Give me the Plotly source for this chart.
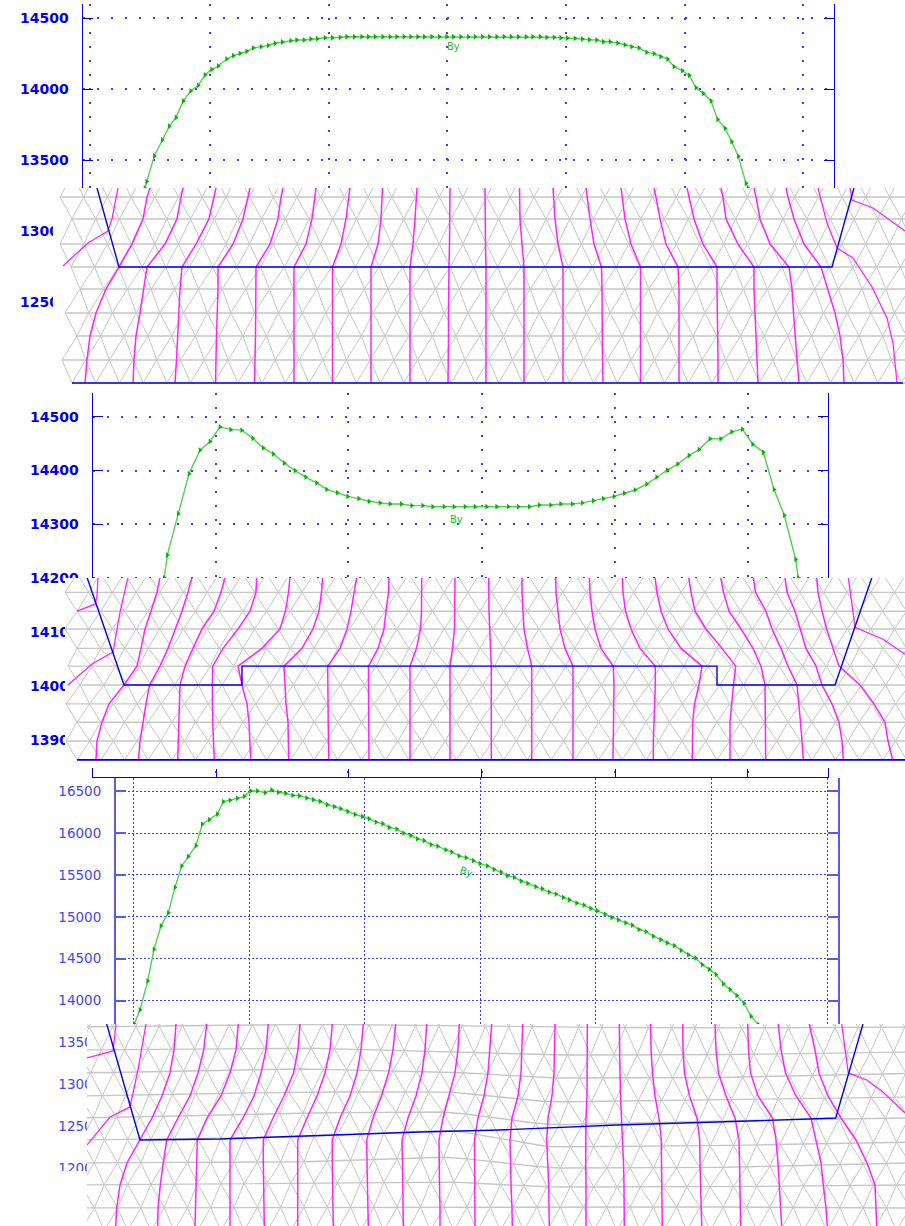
import numpy as np
import plotly.graph_objects as go

W, H = 905, 1226

# ---------- line chart data (By along the gap) ----------
A_x = [145,146.7,154.3,162.3,169.3,176,183.3,190.7,198.3,205,211.7,218.3,226.7,233.3,240,246.7,253.3,261,268.3,275,282.3,290.7,296.7,304,310.7,317.3,325,332.3,
       340,346.7,354.3,361.7,368.3,375,382.7,390,396.7,404,410.7,417.7,424.3,431.7,439.3,446.7,453.3,460.7,468.3,475,482.3,489.3,496.7,504,511,518.3,526,532.7,540,
       546.7,554,560.7,567.3,575,582.3,589.3,596.7,603.3,610,617.7,625,631.7,639,646.7,654,660.7,667.7,674,682.3,689.3,696,703.3,711,717.7,725,731.7,738.3,746,748.3]
A_y = [13301,13348,13528,13641,13739,13800,13916,13986,14026,14099,14138,14162,14211,14235,14251,14265,14289,14298,14307,14322,14331,14340,14345,14345,14352,14354,14361,14361,
       14364,14368,14368,14368,14368,14368,14368,14368,14368,14368,14368,14368,14368,14368,14368,14368,14368,14368,14368,14368,14368,14368,14368,14368,14368,14368,14368,14368,14368,
       14364,14364,14361,14359,14357,14352,14347,14345,14333,14333,14324,14310,14298,14289,14258,14249,14228,14211,14157,14129,14096,14009,13969,13916,13786,13723,13629,13526,13336,13301]

B_x = [164.3,167.3,178.3,189,200,210,220,230.7,241.7,252.7,263.3,273.3,284.3,295,305.7,316.7,326.7,337.3,347.7,358.7,369,380,390,401.3,411.7,422.7,432.7,444,
       454,465,475,486.7,496.7,508.3,518.3,529.3,539.3,550.7,560.7,572.3,582.3,593.3,603.3,614,624.3,635,646.7,656.7,667.3,677.7,689,699,710,720.7,731.7,742.3,752.7,763.3,774,784.3,795.7,798.3]
B_y = [14201,14243,14320,14394,14438,14454,14481,14476,14475,14460,14442,14431,14414,14400,14388,14377,14365,14359,14352,14348,14343,14340,14338,14338,14335,14335,14333,14333,
       14333,14333,14333,14333,14333,14333,14333,14333,14336,14336,14338,14338,14340,14344,14348,14352,14358,14364,14375,14388,14401,14412,14428,14439,14459,14459,14472,14477,14449,14434,14365,14317,14235,14201]

C_x = [134.3,140,147.7,154,161,168.3,175,181.7,188.3,196,202.3,209.3,217.3,223.3,230,237.3,244.3,250.7,257.3,265,271.7,278.3,285.7,292.7,299.3,306.7,313.3,320,327.3,334.3,340.7,347.7,355,362.3,369,376,382.7,389.3,396.7,403.7,410.7,417.3,424,431,437.7,445.7,
       451.7,459,466,473.3,480,487.3,494,501,507.3,514.3,521,527.7,535.7,542.3,549,556,563.3,569.3,576.7,584,590.7,597.3,605,611.7,618.3,625.7,632.3,639,646,653.3,660.7,667.3,674.3,681,688.3,695.7,702.3,709.3,716,723.3,730,736.7,744,751,758.3]
C_y = [13720,13888,14232,14612,14892,15048,15352,15608,15720,15852,16108,16160,16228,16376,16392,16416,16440,16504,16504,16484,16516,16488,16476,16452,16448,16420,16400,16380,16340,16316,16292,16260,16224,16200,16172,16132,16112,16068,16048,16000,15972,15932,15912,15864,15844,15800,
       15776,15728,15708,15672,15636,15608,15568,15536,15492,15472,15428,15400,15360,15336,15296,15272,15232,15204,15164,15140,15100,15072,15032,14992,14964,14928,14900,14848,14824,14768,14728,14688,14656,14600,14548,14508,14428,14372,14312,14200,14132,14060,13968,13812,13712]

# ---------- grid / tick values ----------
A_gridx = [90,210,328.5,446.7,566,685,802.7]
A_ticks = [14500,14000,13500,13000,12500]
B_gridx = [216,348,481.7,615,747.7]
B_ticks = [14500,14400,14300,14200,14100,14000,13900]
C_gridx = [133.3,249,364.7,480,595.7,711.3,827]
C_ticks = [16500,16000,15500,15000,14500,14000,13500,13000,12500,12000]

# ---------- mesh rows: levels and first node of each row ----------
A_mesh_rows = [13401,13239,13085,12908,12746,12592,12423,12261,12092,11930]
A_mesh_x0   = [72,60,72,60,71,80,65,77,62,72]
B_mesh_rows = [14209,14174,14139,14106,14070,14037,14002,13967,13933,13898,13863]
B_mesh_x0   = [77,65,77,65,77,68,80,66,77,66,77]
C_knots_x   = [87,300,450,550,700,905]
C_mesh_rows = [
    [13958,13958,13958,13958,13958,13958],
    [13683,13719,13695,13683,13671,13683],
    [13409,13433,13385,13349,13349,13385],
    [13134,13182,13146,13074,13074,13134],
    [12859,12907,12907,12787,12811,12847],
    [12596,12656,12668,12512,12560,12596],
    [12333,12369,12453,12250,12261,12309],
    [12059,12071,12130,11999,11999,12059],
    [11796,11820,11832,11772,11772,11796],
    [11521,11533,11533,11533,11533,11521],
    [11246,11246,11246,11246,11246,11246],
]
C_mesh_x0   = [75,66,78,67,79,70,81,71,81,71,81]

# ---------- contour lines (x at each contour row level) ----------
A_levels = [13303,13239,13085,12908,12746,12592,12423,12261,12092,11930]
A_lines = [
 [150,147,143,132,119,106,96,90,87,85],
 [183,181,177,165,147,144,140,136,134,133],
 [216,214,209,196,182,180,179,178,176.5,175],
 [250,248,243,233,218,218,217,216.5,216,215.5],
 [283,281,278,270,256,256,255.5,255.5,255,254.5],
 [316,315,312,306,294,294,294,294,294,294],
 [350,349,346,341,332.5,332.5,332.5,332.5,332.5,332.5],
 [382.5,382,381,378,371,371,371,371,371,371],
 [417,416.5,415,413,410,410,410,410,410,410],
 [450,450,450,449.5,449,448.5,448.5,448.5,448,448],
 [485,485,485,485.5,486,486,486,486,486,486],
 [519.5,519.5,520,522,524,524,524,524,524,524],
 [553,553.5,555,558,563,563,563,563,563,563],
 [586,587,590,594,601.5,602,602,602.5,602.5,603],
 [621,622,625,631,640.5,640.5,640.5,640.5,640.5,640.5],
 [654,656,660,666,678,679,679,679,679,679],
 [687,689,694,703,717,717,717.5,717.5,718,718],
 [721,723,726,738,754,754,755,756,757,758],
 [754,756,760,770,789,792,793.5,795,797,799],
 [786,788,794,804,821,828,835,840,843,844],
]
A_free = [
 ([63,88,108,112,118],[12754,12916,13000,13085,13303]),
 ([818,827,837,853,872,887,893,897],[13303,13056,12880,12810,12606,12387,12211,11930]),
 ([850,852,873,905],[13303,13218,13162,13000]),
]
A_blue = ([97,119,832,854],[13303,12746,12746,13303])
A_base = ([72,903],[11930,11930])

B_levels = [14202,14174,14139,14106,14070,14037,14002,13967,13933,13898,13863]
B_lines = [
 [160,157,151,145,141,137,124,109,102,97,96],
 [192,188,182,175,168,160,149.5,146,143.3,140,138.5],
 [225,221,214,202,193,185,180,179.5,178.5,178,177.7],
 [256.7,256,250,238,223,212.7,212.3,212.3,212.7,213.5,214.3],
 [290,288.5,285.5,280,262,238,242,247,249,250,250.7],
 [322.7,321.5,319,313,302,284,285,286,288,288.5,288.7],
 [356.7,354.5,351,347,340,327.7,327.7,328,328.2,328.5,328.7],
 [389,388.5,386,384,378,368.5,368.5,368.7,369,369,369],
 [421.7,421.7,421.5,420.5,416.5,410,410,410,410,410,410],
 [455,455,455,454.5,452.5,450,450,450,450,450,450],
 [488.7,488.7,489,489.7,490.5,491.3,491.3,491.3,491.3,491.3,491.3],
 [522,522,523,524,527.5,531.7,531.7,531.7,531.7,531.7,531.7],
 [555.7,556,558,560,565,573,573,573,573,573,573],
 [589.3,590,592,595,601,613.3,614,613.7,613.3,613,613],
 [622.3,623,625.5,631,640,655.3,655.3,655,654,653.3,653.3],
 [655,657,661,668,681,702,699,694.5,692.7,692.5,692.3],
 [688.7,691,695,706,722,735.7,733.5,731.5,730,730,730],
 [720.7,723.5,729,741,753,761,765,765.2,765.4,765.5,765.7],
 [753.3,755.5,766,772,781,788,797,799,800.5,802,803.3],
 [785,787,795,800,806,816,822,832,839,842,843.3],
 [816.7,818,822,826.7,833,839,860,874,885,888,892.7],
]
B_free = [
 ([77,95,97,98],[14139,14152,14167,14202]),
 ([68,92,113,120,128],[14002,14041,14063,14137,14202]),
 ([848.3,855,883,905],[14202,14109,14087,14059]),
]
B_blue = ([87,124,242,242,717,717,835,872],[14202,14002,14002,14037,14037,14002,14002,14202])
B_base = ([77,905],[13863,13863])

C_levels = [13719,13409,13134,12859,12596,12333,12059,11796,11521,11306]
C_lines = [
 [176,174,170,162,152,140,127,120,116.7,115.7],
 [206.7,203.7,198,190,178,166.7,163.3,160.3,158,157.7],
 [238.3,236,230,221,207,197.3,196.7,196,195.3,195],
 [268.3,266,261,254,243,230,230,230,230,230],
 [300,298,293.5,284,273,263.3,263.3,263.5,264,264.3],
 [332.3,330,325,317,307,297.7,297.7,297.7,297.7,297.7],
 [363.3,361,357,350,340,332.3,332.3,332.5,333,333.3],
 [395.7,393,388.5,381.5,373,366.7,367,367.5,368,368.3],
 [426.7,425,422,416,408,402,402.5,403,403.3,403.3],
 [459.3,458,455,449,443,439,439,439.5,440,440],
 [491.7,490,488,484,478,474.5,474.5,474.7,474.8,475],
 [522.7,521.7,521,518,512,510,510.3,511,512,512.3],
 [555,554.5,554,552,548,546.7,548,548.7,549,549.3],
 [587.3,587.3,587.3,587,586,585.5,585.7,586,586,586],
 [619.3,619.3,620,620.5,621.5,623,623.5,624,624.3,624.3],
 [650.7,651,652.5,655,659,661.3,661.5,662,662.3,662.3],
 [682.7,683,684.5,689.5,697,699.7,700,700.5,701.3,701.7],
 [715,716,718.5,726,735,739,739.5,740,740.5,740.7],
 [747.7,748.5,750.5,758,772.5,776,778,779.5,781,781.7],
 [778.3,781,785.5,796,811,816,821,823.3,826,827.3],
 [809.3,815,819,828,841,856,867,875,876,876.7],
]
C_free = [
 ([87,113,115,116],[13313,13397,13612,13719]),
 ([87,110,130,138,146],[12274,12608,12728,13170,13719]),
 ([841.7,848.3,866.7,883,905],[13719,13134,13050,12907,12656]),
]
C_blue = ([106.7,140,220,300,420,500,617,750,835.7,863],[13719,12333,12345,12381,12429,12453,12512,12560,12596,13719])

BLUE = "#0000f0"
GRID = "#3c3cf0"
GREEN_L, GREEN_M = "#55cf55", "#00b400"
GREY, MAG = "#c6c6c6", "#ff22ff"

def scale(v0, p0, per_px):
    return lambda p: v0 - (p - p0) * per_px
A_val = scale(14000, 89, 7.042)
B_val = scale(14500, 416.7, 1.856)
C_val = scale(14000, 1000.5, 11.95)

fig = go.Figure()

def dom(p_top, p_bot):
    return [1 - p_bot / H, 1 - p_top / H]

def add_line_panel(n, x, y, x_l, x_r, p_top, p_bot, val, gridx, ticks, dash, font, width, color, standoff, gridw, xaxis_line=False):
    sfx = "" if n == 1 else str(n)
    fig.add_trace(go.Scatter(x=x, y=y, mode="lines+markers", xaxis="x"+sfx, yaxis="y"+sfx,
                             line=dict(color=GREEN_L, width=1.4),
                             marker=dict(symbol="triangle-right", size=5, color=GREEN_M)))
    fig.layout["xaxis"+sfx] = dict(domain=[x_l/W, x_r/W], range=[x_l, x_r], anchor="y"+sfx,
        tickmode="array", tickvals=gridx, showticklabels=False, showgrid=True,
        gridcolor=GRID, griddash=dash, gridwidth=gridw, zeroline=False,
        showline=xaxis_line, linecolor=color, linewidth=width,
        ticks="inside" if xaxis_line else "", ticklen=8, tickcolor=color, tickwidth=width)
    fig.layout["yaxis"+sfx] = dict(domain=dom(p_top, p_bot), range=[val(p_bot), val(p_top)], anchor="x"+sfx,
        tickmode="array", tickvals=ticks, showgrid=True, gridcolor=GRID, griddash=dash, gridwidth=gridw,
        zeroline=False, showline=True, mirror="ticks", linecolor=color, linewidth=width,
        ticks="inside", ticklen=10, tickcolor=color, tickwidth=width,
        tickfont=font, ticklabelstandoff=standoff, tickformat="d")

def mesh_nodes(rows, x0s, dx, x_min):
    out = []
    for r, x0 in zip(rows, x0s):
        xs = np.arange(x0, 930, dx)
        xs = np.concatenate([np.arange(x0 - dx, x_min - 0.01, -dx)[::-1], xs])
        if np.isscalar(r):
            ys = np.full_like(xs, r, dtype=float)
        else:
            ys = np.interp(xs, C_knots_x, r)
        out.append((xs, ys))
    return out

def add_mesh_panel(n, x_l, p_top, p_bot, val, rows, x0s, dx, x_min, levels, lines, free, blue, base):
    sfx = str(n)
    fig.layout["xaxis"+sfx] = dict(domain=[x_l/W, 1], range=[x_l, W], anchor="y"+sfx, visible=False)
    fig.layout["yaxis"+sfx] = dict(domain=dom(p_top, p_bot), range=[val(p_bot), val(p_top)], anchor="x"+sfx, visible=False)
    fig.add_shape(type="rect", xref="x"+sfx, yref="y"+sfx, x0=x_l, x1=W, y0=val(p_bot), y1=val(p_top),
                  fillcolor="white", line_width=0, layer="below")
    nodes = mesh_nodes(rows, x0s, dx, x_min)
    hx, hy, dxs, dys = [], [], [], []
    for i, (xs, ys) in enumerate(nodes):
        hx += list(xs) + [None]; hy += list(ys) + [None]
        if i + 1 < len(nodes):
            xn, yn = nodes[i+1]
            for a, b in zip(xs, ys):
                for c, d in zip(xn, yn):
                    if abs(a - c) < dx * 0.8:
                        dxs += [a, c, None]; dys += [b, d, None]
    ax = dict(xaxis="x"+sfx, yaxis="y"+sfx, mode="lines")
    fig.add_trace(go.Scatter(x=dxs, y=dys, line=dict(color=GREY, width=1), **ax))
    fig.add_trace(go.Scatter(x=hx, y=hy, line=dict(color=GREY, width=1.4), **ax))
    for ln in lines:
        fig.add_trace(go.Scatter(x=ln, y=levels, line=dict(color=MAG, width=1.5), **ax))
    for fx, fy in free:
        fig.add_trace(go.Scatter(x=fx, y=fy, line=dict(color=MAG, width=1.3), **ax))
    fig.add_trace(go.Scatter(x=blue[0], y=blue[1], line=dict(color=BLUE, width=1.4), **ax))
    if base is not None:
        fig.add_trace(go.Scatter(x=base[0], y=base[1], line=dict(color=BLUE, width=1.6), **ax))

bold = dict(family="DejaVu Sans", size=14, color="#0000e0", weight="bold")
thin = dict(family="DejaVu Sans", size=13.5, color="#4646ee")

add_line_panel(1, A_x, A_y, 82.5, 834, 4, 392, A_val, A_gridx, A_ticks, "2px,12px", bold, 1, BLUE, 10, 1.5)
add_mesh_panel(2, 53, 188, 392, A_val, A_mesh_rows, A_mesh_x0, 23.7, 58, A_levels, A_lines, A_free, A_blue, A_base)
add_line_panel(3, B_x, B_y, 92.5, 828, 393, 776.5, B_val, B_gridx, B_ticks, "2px,12px", bold, 1, BLUE, 10, 1.5, xaxis_line=True)
add_mesh_panel(4, 65, 578, 768, B_val, B_mesh_rows, B_mesh_x0, 23.7, 64, B_levels, B_lines, B_free, B_blue, B_base)
add_line_panel(5, C_x, C_y, 116, 837.7, 778, 1226, C_val, C_gridx, C_ticks, "2px,2px", thin, 2, "#5a5aee", 10, 1)
add_mesh_panel(6, 87, 1024, 1226, C_val, C_mesh_rows, C_mesh_x0, 23.3, 60, C_levels, C_lines, C_free, C_blue, None)

fig.add_shape(type="rect", xref="paper", yref="paper", x0=0, x1=86.5/W, y0=0, y1=1-1171/H,
              fillcolor="white", line_width=0, layer="above")

for (tx, ty, xr, yr, ang) in [(453, 14296, "x", "y", 0), (456, 14310, "x3", "y3", 0), (466, 15547, "x5", "y5", 20)]:
    fig.add_annotation(x=tx, y=ty, xref=xr, yref=yr, text="By", showarrow=False, textangle=ang,
                       font=dict(family="DejaVu Sans", size=10, color="#20c020"), yanchor="middle")

fig.update_layout(width=W, height=H, autosize=False, margin=dict(l=0, r=0, t=0, b=0),
                  paper_bgcolor="white", plot_bgcolor="white", showlegend=False, hovermode=False)

fig.write_html("out.html", post_script="document.body.style.margin='0';document.documentElement.style.overflow='hidden';",
               config=dict(displayModeBar=False))
